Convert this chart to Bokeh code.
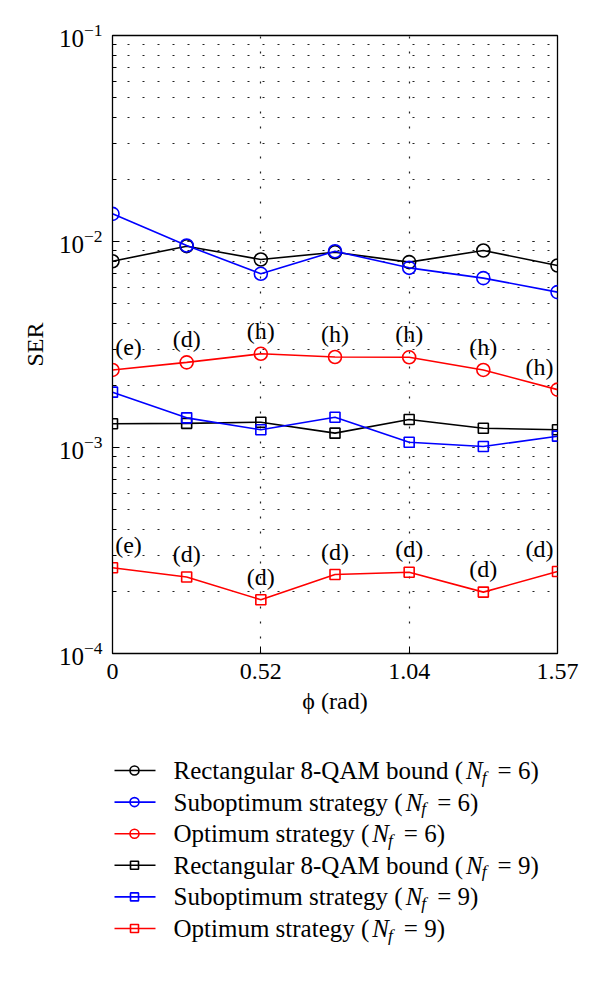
import math
from bokeh.plotting import figure
from bokeh.models import Range1d, FixedTicker, CustomJSTickFormatter, ColumnDataSource
from bokeh.layouts import column
from bokeh.embed import file_html
from bokeh.resources import INLINE
from bokeh.core.properties import value

# ---------------- data ----------------
phi = [0.0, 0.2618, 0.5236, 0.7854, 1.0472, 1.3090, 1.5708]
xtick_values = [0.0, 0.5236, 1.0472, 1.5708]
xtick_labels = ["0", "0.52", "1.04", "1.57"]

rect_nf6 = [0.00802, 0.00949, 0.00818, 0.00887, 0.00794, 0.00904, 0.00765]
subopt_nf6 = [0.01362, 0.00956, 0.00697, 0.00897, 0.00745, 0.00664, 0.00568]
opt_nf6 = [0.00238, 0.00259, 0.00285, 0.00275, 0.00274, 0.00238, 0.00191]
rect_nf9 = [0.001303, 0.00131, 0.001327, 0.001174, 0.001368, 0.001241, 0.001219]
subopt_nf9 = [0.001856, 0.001393, 0.001219, 0.001402, 0.001061, 0.001011, 0.001135]
opt_nf9 = [0.0002606, 0.000235, 0.0001824, 0.0002417, 0.0002481, 0.0001986, 0.0002500]

opt_nf6_tags = ["(e)", "(d)", "(h)", "(h)", "(h)", "(h)", "(h)"]
opt_nf9_tags = ["(e)", "(d)", "(d)", "(d)", "(d)", "(d)", "(d)"]

series_names = ["Rectangular 8-QAM bound", "Suboptimum strategy", "Optimum strategy",
                "Rectangular 8-QAM bound", "Suboptimum strategy", "Optimum strategy"]
series_nf = ["6", "6", "6", "9", "9", "9"]
series_values = [rect_nf6, subopt_nf6, opt_nf6, rect_nf9, subopt_nf9, opt_nf9]
series_colors = ["#000000", "#0000ff", "#ff0000", "#000000", "#0000ff", "#ff0000"]
series_markers = ["circle", "circle", "circle", "square", "square", "square"]

FONT = "Liberation Serif"

# ---------------- main plot ----------------
FRAME_W, FRAME_H = 445, 618
B_LEFT, B_RIGHT, B_TOP, B_BOTTOM = 112, 35, 35, 77
MAIN_W = B_LEFT + FRAME_W + B_RIGHT
MAIN_H = B_TOP + FRAME_H + B_BOTTOM
p = figure(frame_width=FRAME_W, frame_height=FRAME_H, x_range=Range1d(phi[0], phi[-1]),
           y_axis_type="log", y_range=Range1d(1e-4, 1e-1),
           output_backend="svg", toolbar_location=None,
           min_border_left=B_LEFT, min_border_right=B_RIGHT, min_border_top=B_TOP,
           min_border_bottom=B_BOTTOM, background_fill_color="white",
           border_fill_color="white")
p.outline_line_color = "black"
p.outline_line_width = 1.3

xfmt = CustomJSTickFormatter(args=dict(vals=xtick_values, labs=xtick_labels), code="""
let b = 0;
for (let i = 0; i < vals.length; i++) {
  if (Math.abs(vals[i] - tick) < Math.abs(vals[b] - tick)) b = i;
}
return labs[b];
""")

xa = p.xaxis[0]
xa.ticker = FixedTicker(ticks=xtick_values)
xa.formatter = xfmt
xa.axis_label = "ϕ (rad)"
ya = p.yaxis[0]
ya.axis_label = "SER"

for ax in (xa, ya):
    ax.major_label_text_font = FONT
    ax.major_label_text_color = "black"
    ax.axis_label_text_font = FONT
    ax.axis_label_text_font_size = "24px"
    ax.axis_label_text_font_style = "normal"
    ax.axis_label_text_color = "black"
    ax.axis_line_color = "black"
    ax.major_tick_in = 7
    ax.major_tick_out = 0
    ax.minor_tick_in = 4
    ax.minor_tick_out = 0
    ax.major_tick_line_color = "black"
    ax.minor_tick_line_color = "black"
xa.major_label_text_font_size = "24px"
ya.major_label_text_font_size = "25px"
xa.major_label_standoff = 10
xa.axis_label_standoff = 6
ya.major_label_standoff = 10
ya.axis_label_standoff = 8

p.xgrid.ticker = FixedTicker(ticks=xtick_values)
p.xgrid.grid_line_color = "#222222"
p.xgrid.grid_line_dash = "2 13"
p.xgrid.grid_line_width = 1.2
p.ygrid.grid_line_color = "#222222"
p.ygrid.grid_line_dash = "2 13"
p.ygrid.grid_line_width = 1.2
p.ygrid.minor_grid_line_color = "#222222"
p.ygrid.minor_grid_line_dash = "2 13"
p.ygrid.minor_grid_line_width = 1.2

for vals, col, mk in zip(series_values, series_colors, series_markers):
    p.line(phi, vals, line_color=col, line_width=1.6)
    p.scatter(phi, vals, marker=mk, size=(13 if mk == "circle" else 10),
              line_color=col, fill_color=None, line_width=1.6)

n = len(phi)
tag_dx = [16 if i == 0 else (-18 if i == n - 1 else 0) for i in range(n)]
for vals, tags in ((opt_nf6, opt_nf6_tags), (opt_nf9, opt_nf9_tags)):
    src = ColumnDataSource(dict(x=phi, y=vals, t=tags, dx=tag_dx))
    p.text(x="x", y="y", text="t", x_offset="dx", y_offset=-23, source=src,
           text_align="center", text_baseline="middle", text_color="black",
           text_font=value(FONT), text_font_size="24px")

# ---------------- legend panel (frame aligned with main frame; x = page px) ----------------
LH = 982 - 8 - MAIN_H
q = figure(frame_width=FRAME_W, frame_height=LH,
           x_range=Range1d(B_LEFT, B_LEFT + FRAME_W), y_range=Range1d(LH, 0),
           output_backend="svg", toolbar_location=None,
           x_axis_location=None, y_axis_location=None,
           min_border_left=B_LEFT, min_border_right=B_RIGHT,
           min_border_top=0, min_border_bottom=0,
           background_fill_color="white", border_fill_color="white")
q.outline_line_color = None
q.grid.visible = False

FS = 25.0
ROW0, ROWH = 40.0, 31.6
KEY_X0, KEY_X1, KEY_M, TEXT_X = 114.0, 155.0, 134.0, 173.0

# Times/Liberation Serif advance widths (per 1000 em)
W = {'R': 667, 'e': 444, 'c': 444, 't': 278, 'a': 444, 'n': 500, 'g': 500, 'u': 500,
     'l': 278, 'r': 333, ' ': 250, '8': 500, '-': 333, 'Q': 722, 'A': 722, 'M': 889,
     'b': 500, 'o': 500, 'd': 500, 'S': 556, 'p': 500, 'i': 278, 'm': 778, 's': 389,
     'y': 500, 'O': 722, '(': 333}


def tw(s, fs):
    return sum(W.get(c, 500) for c in s) * fs / 1000.0


rows_y = [ROW0 + ROWH * i for i in range(len(series_names))]
for y, col, mk in zip(rows_y, series_colors, series_markers):
    q.line([KEY_X0, KEY_X1], [y, y], line_color=col, line_width=1.6)
    q.scatter([KEY_M], [y], marker=mk, size=(9 if mk == "circle" else 8),
              line_color=col, fill_color=None, line_width=1.6)

pre = [nm + " (" for nm in series_names]
x_n = [TEXT_X + tw(s, FS) + 3 for s in pre]
x_f = [x + 667 * FS / 1000.0 - 1 for x in x_n]
x_eq = [x + 278 * 0.7 * FS / 1000.0 + 11 for x in x_f]
rest = ["= " + nf + ")" for nf in series_nf]

common = dict(text_baseline="middle", text_align="left", text_color="black",
              text_font=value(FONT))
q.text(x=[TEXT_X] * len(pre), y=rows_y, text=pre, text_font_size=f"{FS}px", **common)
q.text(x=x_n, y=rows_y, text=["N"] * len(pre), text_font_size=f"{FS}px",
       text_font_style="italic", **common)
q.text(x=x_f, y=[y + 6 for y in rows_y], text=["f"] * len(pre),
       text_font_size=f"{FS * 0.7:.1f}px", text_font_style="italic", **common)
q.text(x=x_eq, y=rows_y, text=rest, text_font_size=f"{FS}px", **common)

layout = column(p, q, spacing=0)
open("out.html", "w").write(file_html(layout, INLINE))
